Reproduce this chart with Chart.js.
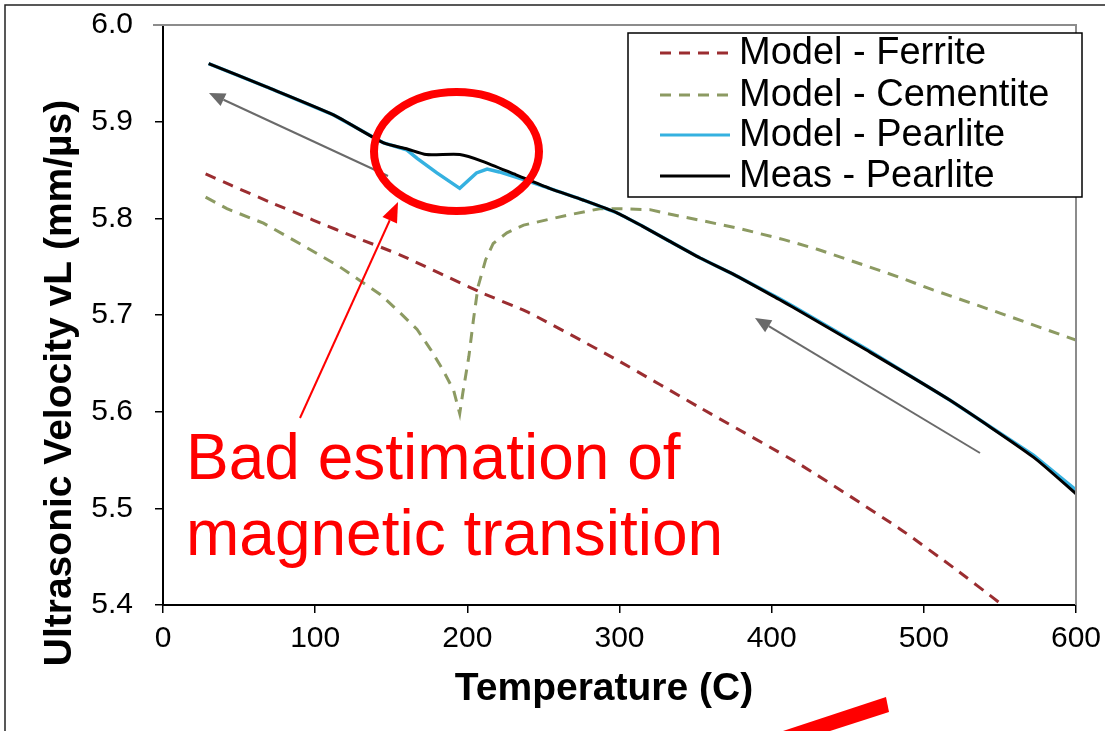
<!DOCTYPE html>
<html><head><meta charset="utf-8">
<script src="https://cdn.jsdelivr.net/npm/chart.js@4.4.1/dist/chart.umd.min.js"></script>
<style>html,body{margin:0;padding:0;background:#fff;}#wrap{width:1105px;height:731px;position:relative;}</style>
</head><body><div id="wrap"><canvas id="c" width="1105" height="731"></canvas></div>
<script>
// ---- data ----
const seriesNames = ["Model - Ferrite", "Model - Cementite", "Model - Pearlite", "Meas - Pearlite"];
const xTicks = [0, 100, 200, 300, 400, 500, 600];
const yTicks = [5.4, 5.5, 5.6, 5.7, 5.8, 5.9, 6.0];

const ferriteT = [28, 45, 70, 99, 127, 156, 208, 241, 300, 353, 419, 484, 520, 550, 556];
const ferriteV = [5.846, 5.834, 5.817, 5.798, 5.780, 5.762, 5.724, 5.702, 5.652, 5.604, 5.545, 5.479, 5.438, 5.402, 5.394];

const cementiteT = [28, 42, 66, 92, 116, 143, 156, 167, 176, 184, 191, 195, 197, 201, 204, 207, 212, 217, 226, 237, 265, 287, 298, 320, 331, 353, 380, 408, 430, 460, 484, 506, 550, 600];
const cementiteV = [5.822, 5.810, 5.795, 5.772, 5.750, 5.721, 5.702, 5.685, 5.664, 5.643, 5.622, 5.598, 5.619, 5.657, 5.695, 5.729, 5.757, 5.774, 5.785, 5.793, 5.803, 5.810, 5.810, 5.809, 5.805, 5.798, 5.789, 5.778, 5.768, 5.752, 5.739, 5.726, 5.702, 5.674];

const modelPearliteT = [30, 68, 112, 145, 160, 167, 180, 195, 206, 213, 221, 237, 254, 276, 298, 315, 331, 353, 375, 405, 414, 462, 517, 572, 600];
const modelPearliteV = [5.960, 5.936, 5.907, 5.878, 5.871, 5.862, 5.847, 5.831, 5.847, 5.851, 5.848, 5.840, 5.831, 5.819, 5.806, 5.792, 5.778, 5.759, 5.742, 5.717, 5.709, 5.665, 5.612, 5.555, 5.519];

const measPearliteT = [30, 68, 112, 145, 160, 173, 195, 210, 232, 254, 276, 298, 315, 331, 353, 375, 405, 414, 462, 517, 572, 600];
const measPearliteV = [5.960, 5.936, 5.907, 5.878, 5.872, 5.866, 5.866, 5.859, 5.845, 5.831, 5.819, 5.806, 5.792, 5.778, 5.759, 5.742, 5.716, 5.708, 5.664, 5.612, 5.553, 5.515];

const annotationLines = ["Bad estimation of", "magnetic transition"];
const xTitle = "Temperature (C)";
const yTitle = "Ultrasonic Velocity vL (mm/\u00b5s)";

// ---- styling ----
const FONT = "'Liberation Sans', Arial, Helvetica, sans-serif";
const C_FERRITE = "#9b2d30", C_CEMENT = "#8c9a62", C_PEARL = "#35b1e0", C_MEAS = "#000000";

const pts = (t, v) => t.map((x, i) => ({x: x, y: v[i]}));

const decor = {
  id: 'decor',
  beforeDraw(chart) {
    const ctx = chart.ctx; ctx.save();
    ctx.fillStyle = '#fff'; ctx.fillRect(0, 0, chart.width, chart.height);
    ctx.restore();
  },
  afterDraw(chart) {
    const ctx = chart.ctx, a = chart.chartArea;
    ctx.save();
    // gray top/right plot borders
    ctx.strokeStyle = '#8c8c8c'; ctx.lineWidth = 2;
    ctx.beginPath(); ctx.moveTo(153, a.top); ctx.lineTo(a.right, a.top); ctx.lineTo(a.right, a.bottom); ctx.stroke();
    // outer frame
    ctx.strokeStyle = '#222'; ctx.lineWidth = 1.5;
    ctx.beginPath(); ctx.moveTo(5, chart.height); ctx.lineTo(5, 5); ctx.lineTo(chart.width, 5); ctx.stroke();

    // axis titles
    ctx.fillStyle = '#000';
    ctx.font = "bold 39px " + FONT; ctx.textAlign = 'center'; ctx.textBaseline = 'middle';
    ctx.fillText(xTitle, 604, 689);
    ctx.save(); ctx.translate(60, 383); ctx.rotate(-Math.PI / 2);
    ctx.fillText(yTitle, 0, 0); ctx.restore();

    // legend
    const lx = 628, ly = 33, lw = 454, lh = 164;
    ctx.fillStyle = '#fff'; ctx.fillRect(lx, ly, lw, lh);
    ctx.strokeStyle = '#000'; ctx.lineWidth = 1.5; ctx.strokeRect(lx, ly, lw, lh);
    const rows = [53, 95, 135, 176];
    const cols = [C_FERRITE, C_CEMENT, C_PEARL, C_MEAS];
    const dashes = [[11, 8], [11, 8], [], []];
    ctx.font = "38px " + FONT; ctx.textAlign = 'left'; ctx.textBaseline = 'middle';
    for (let i = 0; i < 4; i++) {
      ctx.strokeStyle = cols[i]; ctx.lineWidth = 3; ctx.setLineDash(dashes[i]);
      ctx.beginPath(); ctx.moveTo(660, rows[i]); ctx.lineTo(730, rows[i]); ctx.stroke();
      ctx.setLineDash([]);
      ctx.fillStyle = '#000'; ctx.fillText(seriesNames[i], 739, rows[i] + 1);
    }

    // arrows helper
    function arrow(x1, y1, x2, y2, col, w, hl, hw) {
      const ang = Math.atan2(y2 - y1, x2 - x1);
      const bx = x2 - hl * Math.cos(ang), by = y2 - hl * Math.sin(ang);
      ctx.strokeStyle = col; ctx.fillStyle = col; ctx.lineWidth = w;
      ctx.beginPath(); ctx.moveTo(x1, y1); ctx.lineTo(bx, by); ctx.stroke();
      ctx.beginPath(); ctx.moveTo(x2, y2);
      ctx.lineTo(bx + hw * Math.sin(ang), by - hw * Math.cos(ang));
      ctx.lineTo(bx - hw * Math.sin(ang), by + hw * Math.cos(ang));
      ctx.closePath(); ctx.fill();
    }
    arrow(388, 176, 209, 93, '#6a6a6a', 2, 16, 7);
    arrow(980, 453, 755, 318, '#6a6a6a', 2, 16, 7);
    arrow(300, 418, 398, 202, '#ff0000', 2, 20, 8);

    // red ellipse
    ctx.strokeStyle = '#ff0000'; ctx.lineWidth = 8;
    ctx.beginPath(); ctx.ellipse(456.5, 151.5, 82.5, 59.5, 0, 0, Math.PI * 2); ctx.stroke();

    // annotation text
    ctx.fillStyle = '#ff0000'; ctx.font = "64px " + FONT; ctx.textAlign = 'left'; ctx.textBaseline = 'alphabetic';
    ctx.fillText(annotationLines[0], 186, 479);
    ctx.fillText(annotationLines[1], 186, 555);

    // red bar at bottom
    ctx.beginPath(); ctx.moveTo(886, 697); ctx.lineTo(889, 712); ctx.lineTo(830, 731); ctx.lineTo(783, 731); ctx.closePath(); ctx.fill();
    ctx.restore();
  }
};

new Chart(document.getElementById('c'), {
  type: 'line',
  data: {
    datasets: [
      {label: seriesNames[3], data: pts(measPearliteT, measPearliteV), borderColor: C_MEAS, borderWidth: 3, pointRadius: 0, tension: 0.2, order: 0},
      {label: seriesNames[2], data: pts(modelPearliteT, modelPearliteV), borderColor: C_PEARL, borderWidth: 3.5, pointRadius: 0, tension: 0, order: 1},
      {label: seriesNames[0], data: pts(ferriteT, ferriteV), borderColor: C_FERRITE, borderWidth: 3, borderDash: [11, 8], pointRadius: 0, tension: 0.2, order: 2},
      {label: seriesNames[1], data: pts(cementiteT, cementiteV), borderColor: C_CEMENT, borderWidth: 3, borderDash: [11, 8], pointRadius: 0, tension: 0, order: 3}
    ]
  },
  options: {
    responsive: false, animation: false, devicePixelRatio: 1,
    layout: {padding: {top: 25, right: 29, left: 0, bottom: 0}},
    plugins: {legend: {display: false}, tooltip: {enabled: false}},
    scales: {
      x: {
        type: 'linear', min: 0, max: 600,
        afterFit(s) { s.height = 126; s.paddingLeft = 0; s.paddingRight = 0; },
        afterBuildTicks(s) { s.ticks = xTicks.map(v => ({value: v})); },
        grid: {display: true, drawOnChartArea: false, drawTicks: true, tickLength: 8, color: '#000', lineWidth: 1.5},
        border: {display: true, color: '#000', width: 2},
        ticks: {color: '#000', font: {family: FONT, size: 30}, padding: 8, maxRotation: 0, callback: v => String(v)}
      },
      y: {
        type: 'linear', min: 5.4, max: 6.0,
        afterFit(s) { s.width = 163; s.paddingTop = 0; s.paddingBottom = 0; },
        afterBuildTicks(s) { s.ticks = yTicks.map(v => ({value: v})); },
        grid: {display: true, drawOnChartArea: false, drawTicks: true, tickLength: 8, color: '#000', lineWidth: 1.5},
        border: {display: true, color: '#000', width: 2},
        ticks: {color: '#000', font: {family: FONT, size: 30}, padding: 22, callback: v => Number(v).toFixed(1)}
      }
    }
  },
  plugins: [decor]
});
</script></body></html>
